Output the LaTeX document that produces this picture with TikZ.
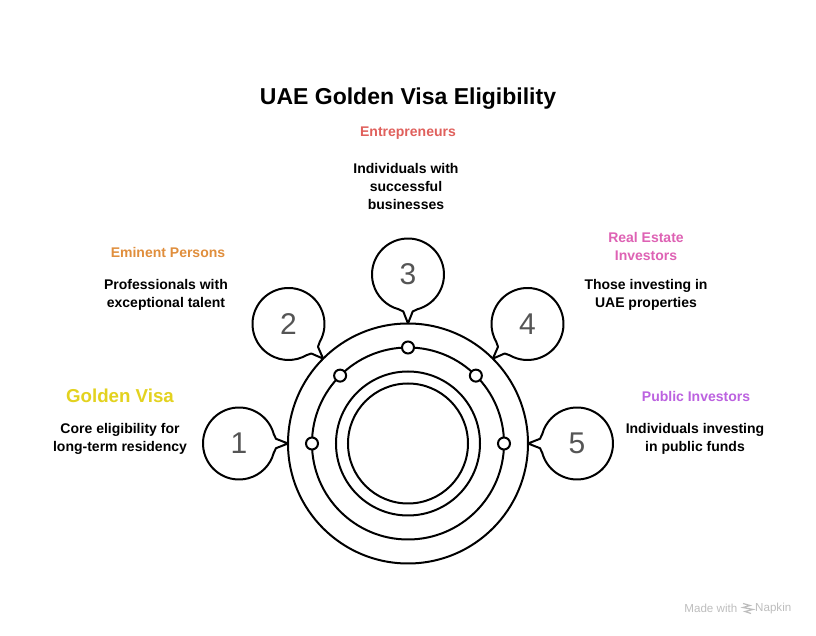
\documentclass[tikz,border=0pt]{standalone}
\usepackage{fontspec}
\setmainfont{Liberation Sans}
\usepackage{xcolor}
\usetikzlibrary{positioning}
\definecolor{myellow}{HTML}{E3D21F}
\definecolor{morange}{HTML}{E08E3C}
\definecolor{mred}{HTML}{E0605C}
\definecolor{mpink}{HTML}{DE62B4}
\definecolor{mpurple}{HTML}{BC62E0}
\definecolor{mgray}{HTML}{555555}
\definecolor{mmark}{HTML}{BEBEBE}
\tikzstyle{l2}=[line width=2pt, draw=black]
\tikzstyle{ring}=[circle, l2, inner sep=0pt]
\tikzstyle{dotnode}=[circle, l2, fill=white, minimum size=12pt, inner sep=0pt]
\tikzstyle{numnode}=[text=mgray, font=\fontsize{30}{30}\selectfont, inner sep=0pt]
\tikzstyle{head}=[font=\fontsize{14}{18}\selectfont\bfseries, align=center, inner sep=0pt]
\tikzstyle{body}=[font=\fontsize{14}{18}\selectfont\bfseries, align=center, inner sep=0pt]
\tikzstyle{madeby}=[text=mmark, font=\fontsize{11.6}{13}\selectfont, inner sep=0pt]
\begin{document}
\begin{tikzpicture}[x=1pt, y=1pt]
    \useasboundingbox[fill=white] (-408,-192.5) rectangle (408,443.5);

    % title
    \node[font=\fontsize{23}{28}\selectfont\bfseries, inner sep=0pt] at (0,344.5) (title) {UAE Golden Visa Eligibility};

    % bubbles with their numbers, dots on the second ring
    \foreach \i/\ang in {1/180, 2/135, 3/90, 4/45, 5/0} {
        \begin{scope}[shift={(\ang:169)}, rotate=\ang+180]
            \draw[l2, line join=round] (15:36) arc (15:345:36) -- (37,-4.7) -- (49,0) -- (37,4.7) -- cycle;
        \end{scope}
        \node[numnode] at (\ang:169) (n\i) {\i};
    }

    \node[ring, minimum size=240pt] at (0,0) (r1) {};
    \node[ring, minimum size=192pt] at (0,0) (r2) {};
    \node[ring, minimum size=144pt] at (0,0) (r3) {};
    \node[ring, minimum size=120pt] at (0,0) (r4) {};

    \foreach \i/\ang in {1/180, 2/135, 3/90, 4/45, 5/0} {
        \node[dotnode] at (\ang:96) (d\i) {};
    }

    % labels
    \node[head, text=myellow, font=\fontsize{18.7}{22}\selectfont\bfseries] at (-288,47.5) (h1) {Golden Visa};
    \node[body] at (-288,4.5) (t1) {Core eligibility for\\long-term residency};
    \node[head, text=morange] at (-240,191) (h2) {Eminent Persons};
    \node[body] at (-242,148.5) (t2) {Professionals with\\exceptional talent};
    \node[head, text=mred] at (0,310.5) (h3) {Entrepreneurs};
    \node[body] at (-2,257) (t3) {Individuals with\\successful\\businesses};
    \node[head, text=mpink] at (238,197) (h4) {Real Estate\\Investors};
    \node[body] at (238,148.5) (t4) {Those investing in\\UAE properties};
    \node[head, text=mpurple] at (288,47) (h5) {Public Investors};
    \node[body] at (287,4.5) (t5) {Individuals investing\\in public funds};

    % watermark
    \node[madeby, anchor=east] at (329.5,-165) (mw) {Made with};
    \node[madeby, anchor=west] at (347,-165) (mn) {Napkin};
    \draw[mmark, line width=1.2pt] (335,-160) -- (342,-162) -- (335,-164) -- (345,-166) -- (337,-168) -- (343,-170);
\end{tikzpicture}
\end{document}
